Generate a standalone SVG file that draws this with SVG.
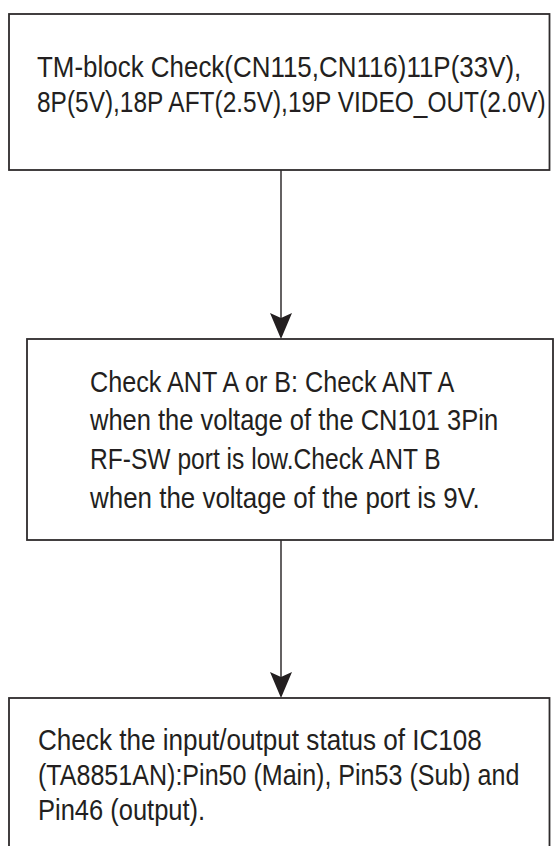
<svg xmlns="http://www.w3.org/2000/svg" width="556" height="846" viewBox="0 0 556 846">
<defs>
<style>
.box{fill:#ffffff;stroke:#2e2b2c;stroke-width:1.8}
.t{font-family:"Liberation Sans","Arimo",sans-serif;font-size:30px;fill:#231f20}
.c{stroke:#231f20;stroke-width:1.4;fill:none}
.ah{fill:#231f20}
</style>
</defs>
<rect width="556" height="846" fill="#ffffff"/>
<g id="connectors">
<line class="c" x1="281" y1="170" x2="281" y2="330"/>
<path class="ah" d="M270,313 L281,318 L292,313 L281,339 Z"/>
<line class="c" x1="281" y1="540" x2="281" y2="688"/>
<path class="ah" d="M270,672 L281,677 L292,672 L281,698 Z"/>
</g>
<g id="node1">
<rect class="box" x="9" y="14" width="540.5" height="156"/>
<text class="t" transform="matrix(0.865 0 0 1 37 77)">TM-block Check(CN115,CN116)11P(33V),</text>
<text class="t" transform="matrix(0.815 0 0 1 37 112)">8P(5V),18P AFT(2.5V),19P VIDEO_OUT(2.0V)</text>
</g>
<g id="node2">
<rect class="box" x="27" y="339" width="526" height="201"/>
<text class="t" transform="matrix(0.84 0 0 1 90 392)">Check ANT A or B: Check ANT A</text>
<text class="t" transform="matrix(0.85 0 0 1 90 430)">when the voltage of the CN101 3Pin</text>
<text class="t" transform="matrix(0.82 0 0 1 90 469)">RF-SW port is low.Check ANT B</text>
<text class="t" transform="matrix(0.865 0 0 1 90 508)">when the voltage of the port is 9V.</text>
</g>
<g id="node3">
<rect class="box" x="9" y="698" width="540.5" height="160"/>
<text class="t" transform="matrix(0.87 0 0 1 38 750)">Check the input/output status of IC108</text>
<text class="t" transform="matrix(0.836 0 0 1 38 785)">(TA8851AN):Pin50 (Main), Pin53 (Sub) and</text>
<text class="t" transform="matrix(0.85 0 0 1 38 820)">Pin46 (output).</text>
</g>
</svg>
